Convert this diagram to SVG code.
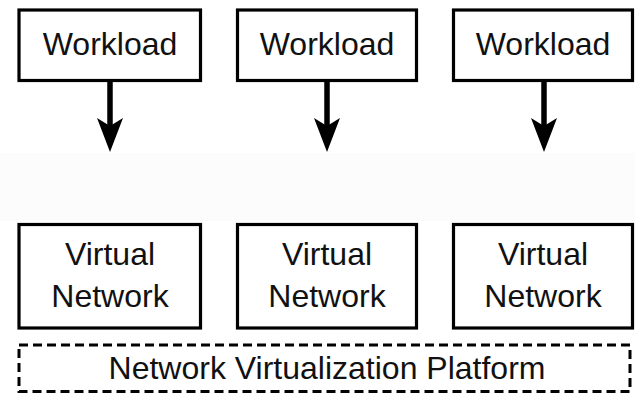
<svg xmlns="http://www.w3.org/2000/svg" width="635" height="395" viewBox="0 0 635 395">
  <style>
    .box { fill: #fff; stroke: #000; stroke-width: 3.2; }
    .dash { fill: none; stroke: #000; stroke-width: 3; stroke-dasharray: 9 5; }
    .lbl { font-family: "Liberation Sans", Arial, sans-serif; font-size: 32px; fill: #111; text-anchor: middle; }
    .shaft { stroke: #000; stroke-width: 5.5; fill: none; }
    .head { fill: #000; stroke: none; }
  </style>
  <defs>
    <path id="arrowhead" class="head" d="M0,152 L-13,118 L0,126 L13,118 Z"/>
  </defs>
  <rect width="635" height="395" fill="#fff"/>
  <rect x="0" y="153" width="635" height="68" fill="#fcfcfc"/>

  <g id="workload-1">
    <rect class="box" x="19" y="10" width="181.5" height="70.5"/>
    <text class="lbl" x="110" y="55">Workload</text>
  </g>
  <g id="workload-2">
    <rect class="box" x="237.5" y="10" width="179" height="70.5"/>
    <text class="lbl" x="327" y="55">Workload</text>
  </g>
  <g id="workload-3">
    <rect class="box" x="453.5" y="10" width="179" height="70.5"/>
    <text class="lbl" x="543" y="55">Workload</text>
  </g>

  <g id="connectors">
    <line class="shaft" x1="110" y1="82" x2="110" y2="128"/>
    <use href="#arrowhead" x="110"/>
    <line class="shaft" x1="327" y1="82" x2="327" y2="128"/>
    <use href="#arrowhead" x="327"/>
    <line class="shaft" x1="544" y1="82" x2="544" y2="128"/>
    <use href="#arrowhead" x="544"/>
  </g>

  <g id="virtual-network-1">
    <rect class="box" x="19" y="224.5" width="181.5" height="103.5"/>
    <text class="lbl" x="110" y="265">Virtual</text>
    <text class="lbl" x="110" y="307">Network</text>
  </g>
  <g id="virtual-network-2">
    <rect class="box" x="237.5" y="224.5" width="179" height="103.5"/>
    <text class="lbl" x="327" y="265">Virtual</text>
    <text class="lbl" x="327" y="307">Network</text>
  </g>
  <g id="virtual-network-3">
    <rect class="box" x="453.5" y="224.5" width="179" height="103.5"/>
    <text class="lbl" x="543" y="265">Virtual</text>
    <text class="lbl" x="543" y="307">Network</text>
  </g>

  <g id="platform">
    <rect class="dash" x="19" y="345" width="611" height="46.5"/>
    <text class="lbl" x="327" y="379">Network Virtualization Platform</text>
  </g>
</svg>
